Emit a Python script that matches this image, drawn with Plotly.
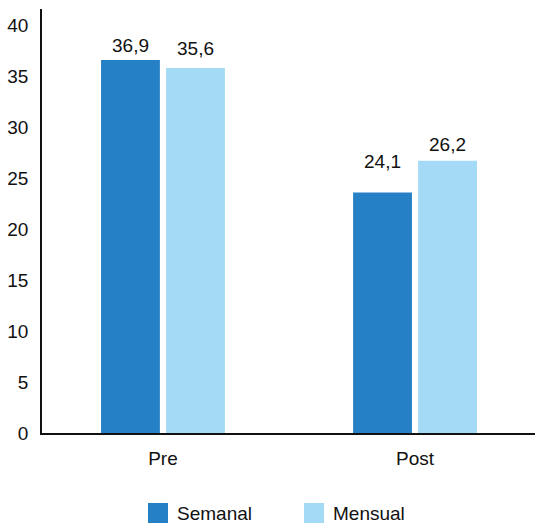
import plotly.graph_objects as go

categories = ["Pre", "Post"]
series_names = ["Semanal", "Mensual"]
semanal_values = [36.6, 23.6]
mensual_values = [35.8, 26.7]
semanal_labels = ["36,9", "24,1"]
mensual_labels = ["35,6", "26,2"]
y_ticks = [0, 5, 10, 15, 20, 25, 30, 35, 40]

colors = ["#2680C5", "#A4DAF6"]
FONT = "Liberation Sans Narrow, Arial Narrow, Liberation Sans, Arial, sans-serif"

fig = go.Figure()
all_vals = [semanal_values, mensual_values]
all_labels = [semanal_labels, mensual_labels]
for name, vals, col in zip(series_names, all_vals, colors):
    fig.add_trace(go.Bar(x=categories, y=vals, name=name, marker=dict(color=col, line=dict(width=0)),
                         showlegend=False))

# value labels
label_shift = [[2, 18], [7, 4]]
x_off = [-32.5, 32.5]
for si in range(2):
    for ci, cat in enumerate(categories):
        fig.add_annotation(x=cat, y=all_vals[si][ci], text=all_labels[si][ci], showarrow=False,
                           xshift=x_off[si], yshift=label_shift[si][ci], yanchor="bottom",
                           font=dict(family=FONT, size=19, color="#111"))

# custom legend
leg_x = [148, 304]
for i, (name, col) in enumerate(zip(series_names, colors)):
    fig.add_shape(type="rect", xref="paper", yref="paper",
                  x0=(leg_x[i] - 42) / 493, x1=(leg_x[i] + 20 - 42) / 493,
                  y0=(433 - 523) / 424, y1=(433 - 503) / 424,
                  fillcolor=col, line=dict(width=0))
    fig.add_annotation(xref="paper", yref="paper", x=(leg_x[i] + 27 - 42) / 493, y=(433 - 513) / 424,
                       text=name, showarrow=False, xanchor="left", yanchor="middle",
                       font=dict(family=FONT, size=19, color="#111"))

fig.update_layout(
    width=535, height=525,
    margin=dict(l=42, r=0, t=9, b=92),
    paper_bgcolor="white", plot_bgcolor="white",
    barmode="group", bargap=0.484, bargroupgap=0.095,
    font=dict(family=FONT, size=19, color="#111"),
    xaxis=dict(range=[-0.48, 1.476], showline=True, linecolor="#111", linewidth=1.5,
               showgrid=False, ticks="", ticklabelstandoff=7),
    yaxis=dict(range=[0, 41.6], tickvals=y_ticks, showline=True, linecolor="#111", linewidth=1.5,
               showgrid=False, zeroline=False, ticks="", ticklabelstandoff=8),
)
fig.write_html("out.html")
